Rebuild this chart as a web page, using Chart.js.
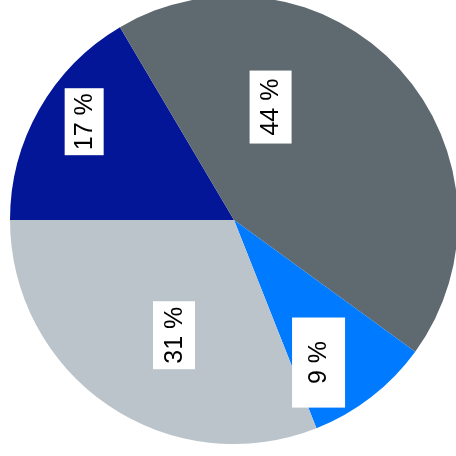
<!DOCTYPE html>
<html>
<head>
<meta charset="utf-8">
<script src="https://cdn.jsdelivr.net/npm/chart.js@4"></script>
<style>
    html, body { margin: 0; padding: 0; width: 456px; height: 456px; overflow: hidden; background: #fff; }
    .chart-wrap { position: absolute; left: 10px; top: -4px; width: 448px; height: 448px; }
</style>
</head>
<body>
<div class="chart-wrap"><canvas id="shareChart"></canvas></div>
<script>
// Chart data
const categories = ['A', 'B', 'C', 'D'];
const shares = [16.5, 43.5, 9, 31];
const sliceColors = ['#031697', '#5f6a70', '#007bff', '#bac4ca'];

// where each label box sits inside its slice: [fraction of slice angle, fraction of radius]
const labelSpots = [[0.56, 0.80], [0.31, 0.53], [0.72, 0.74], [0.44, 0.58]];
// box padding around rotated text: [across, along]
const labelPads = [[10, 5], [11.5, 8], [17, 23.5], [11.5, 5.5]];

// Rotated, boxed percentage labels
const boxLabels = {
    id: 'boxLabels',
    afterDatasetsDraw(chart) {
        const ctx = chart.ctx;
        const meta = chart.getDatasetMeta(0);
        ctx.save();
        ctx.font = '25px "Liberation Sans", Arial, sans-serif';
        meta.data.forEach((arc, i) => {
            const spot = labelSpots[i];
            const pad = labelPads[i];
            const a = arc.startAngle + (arc.endAngle - arc.startAngle) * spot[0];
            const r = arc.outerRadius * spot[1];
            const x = arc.x + Math.cos(a) * r;
            const y = arc.y + Math.sin(a) * r;
            const text = Math.round(shares[i]) + ' %';
            const tw = ctx.measureText(text).width;
            const th = 19;
            ctx.save();
            ctx.translate(x, y);
            ctx.rotate(-Math.PI / 2);
            ctx.fillStyle = '#ffffff';
            ctx.fillRect(-tw / 2 - pad[1], -th / 2 - pad[0], tw + pad[1] * 2, th + pad[0] * 2);
            ctx.fillStyle = '#000000';
            ctx.textAlign = 'center';
            ctx.textBaseline = 'middle';
            ctx.fillText(text, 0, 1);
            ctx.restore();
        });
        ctx.restore();
    }
};

new Chart(document.getElementById('shareChart'), {
    type: 'pie',
    data: {
        labels: categories,
        datasets: [{
            data: shares,
            backgroundColor: sliceColors,
            borderWidth: 0
        }]
    },
    options: {
        responsive: true,
        maintainAspectRatio: false,
        animation: false,
        rotation: 270,
        layout: { padding: 0 },
        plugins: {
            legend: { display: false },
            tooltip: { enabled: false }
        }
    },
    plugins: [boxLabels]
});
</script>
</body>
</html>
